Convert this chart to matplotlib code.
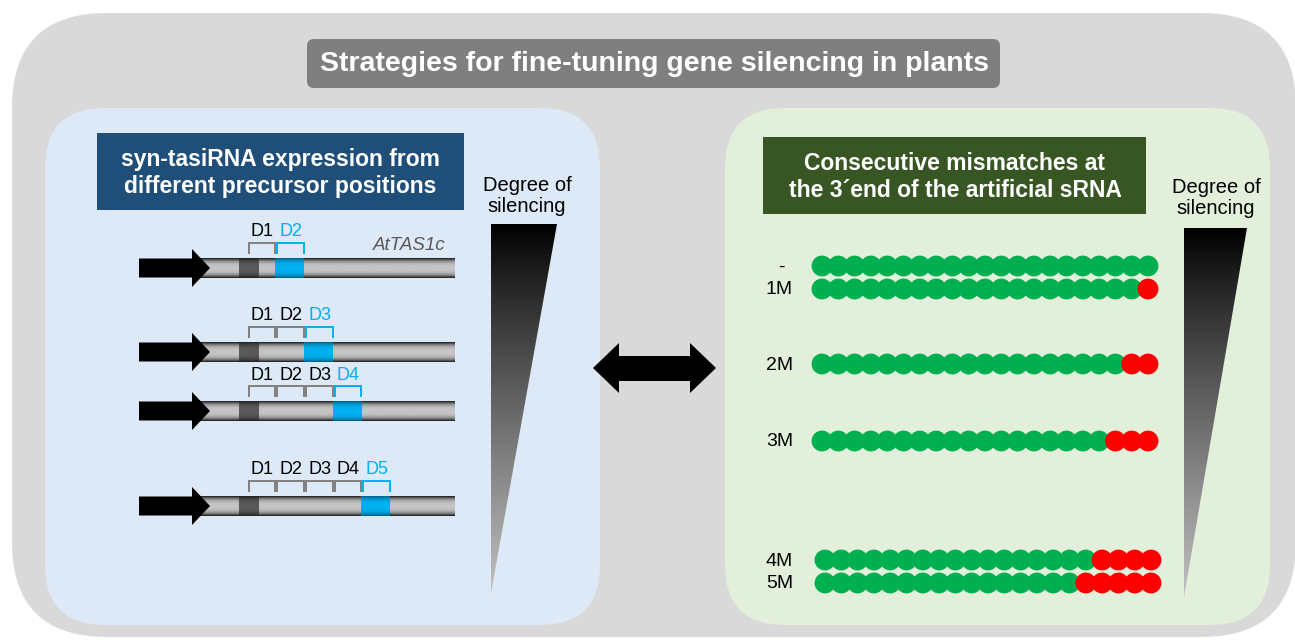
import numpy as np
import matplotlib
matplotlib.use("Agg")
import matplotlib.pyplot as plt
from matplotlib.patches import FancyBboxPatch, Polygon
from matplotlib.colors import LinearSegmentedColormap

plt.rcParams['font.family'] = ['Liberation Sans', 'DejaVu Sans']

# ---- content ----
title = "Strategies for fine-tuning gene silencing in plants"
left_header = "syn-tasiRNA expression from\ndifferent precursor positions"
right_header = "Consecutive mismatches at\nthe 3\u00b4end of the artificial sRNA"
scale_label = "Degree of\nsilencing"

# syn-tasiRNA constructs: position (D index) of the syn-tasiRNA in AtTAS1c
construct_pos = [2, 3, 4, 5]
construct_y = [268, 352, 411, 506]

# mismatch series
mm_labels = ["-", "1M", "2M", "3M", "4M", "5M"]
mm_counts = [0, 1, 2, 3, 4, 5]
n_nt = 21
mm_y = [266, 289, 364, 441, 560, 583]
mm_x0 = [822, 822, 822, 822, 825, 825]

GREEN = "#00b050"
RED = "#ff0000"
BLUE = "#00b0f0"

fig = plt.figure(figsize=(12.95, 6.42), dpi=100)
ax = fig.add_axes([0, 0, 1, 1])
ax.set_xlim(0, 1295)
ax.set_ylim(642, 0)
ax.axis("off")


def rbox(x0, y0, x1, y1, r, color, z=1):
    p = FancyBboxPatch((x0, y0), x1 - x0, y1 - y0,
                       boxstyle=f"round,pad=0,rounding_size={r}",
                       fc=color, ec="none", zorder=z)
    ax.add_patch(p)


def cylinder(x0, x1, y0, y1, edge, mid, z=3):
    t = np.linspace(-1, 1, 40)
    prof = np.abs(t) ** 3
    cmap = LinearSegmentedColormap.from_list("c", [mid, edge])
    ax.imshow(prof[:, None], cmap=cmap, vmin=0, vmax=1, aspect="auto",
              extent=(x0, x1, y1, y0), origin="upper", zorder=z,
              interpolation="bilinear")


def wedge(xl, xr, ytop, ybot):
    tri = Polygon([(xl, ytop), (xr, ytop), (xl, ybot)], closed=True,
                  fc="none", ec="none", zorder=3)
    ax.add_patch(tri)
    g = np.linspace(0, 1, 200) ** 0.9
    cmap = LinearSegmentedColormap.from_list("w", ["#000000", "#c0c0c0"])
    im = ax.imshow(g[:, None], cmap=cmap, aspect="auto",
                   extent=(xl, xr, ybot, ytop), origin="upper", zorder=3)
    im.set_clip_path(tri)


# backgrounds
rbox(12, 13, 1296, 637, 95, "#d9d9d9", 0)
rbox(45, 108, 600, 625, 60, "#dde9f6", 1)
rbox(725, 108, 1270, 625, 60, "#e2efda", 1)

# title
rbox(307, 39, 1000, 88, 7, "#7f7f7f", 2)
ax.text(655, 64, title, color="white", fontsize=20.5, fontweight="bold",
        ha="center", va="center", zorder=4)

# headers
ax.add_patch(plt.Rectangle((97, 133), 367, 77, fc="#1f4e79", ec="none", zorder=2))
ax.text(280, 173, left_header, color="white", fontsize=16.5, fontweight="bold",
        ha="center", va="center", linespacing=1.25, zorder=4)
ax.add_patch(plt.Rectangle((763, 137), 383, 77, fc="#375623", ec="none", zorder=2))
ax.text(955, 177, right_header, color="white", fontsize=16.5, fontweight="bold",
        ha="center", va="center", linespacing=1.25, zorder=4)

# degree of silencing wedges
ax.text(527, 196, scale_label, fontsize=14.5, ha="center", va="center",
        linespacing=1.1, zorder=4)
wedge(491, 557, 224, 593)
ax.text(1216, 198, scale_label, fontsize=14.5, ha="center", va="center",
        linespacing=1.1, zorder=4)
wedge(1184, 1247, 228, 597)

# double arrow between panels
ax.add_patch(Polygon([(593, 368), (619, 343), (619, 356), (690, 356),
                      (690, 343), (716, 368), (690, 393), (690, 381),
                      (619, 381), (619, 393)], closed=True, fc="black",
                     ec="none", zorder=3))

# gene constructs
seg_x0 = 248.5
seg_w = 28.7
for pos, yc in zip(construct_pos, construct_y):
    cylinder(200, 455, yc - 10, yc + 10, "#1a1a1a", "#c4c4c4")
    cylinder(239, 259, yc - 10, yc + 10, "#202020", "#5a5a5a", z=4)
    bx = seg_x0 + (pos - 1) * seg_w
    cylinder(bx - 2, bx + 27, yc - 10, yc + 10, "#00608a", BLUE, z=4)
    # promoter arrow
    ax.add_patch(Polygon([(139, yc - 9.5), (192, yc - 9.5), (192, yc - 19),
                          (210, yc), (192, yc + 19), (192, yc + 9.5),
                          (139, yc + 9.5)], closed=True, fc="black",
                         ec="none", zorder=5))
    # brackets and labels
    for d in range(1, pos + 1):
        x0 = seg_x0 + (d - 1) * seg_w
        x1 = x0 + seg_w - 2
        col = BLUE if d == pos else "#808080"
        tcol = BLUE if d == pos else "black"
        ax.plot([x0, x0, x1, x1], [yc - 15, yc - 25, yc - 25, yc - 15],
                color=col, lw=1.4, zorder=4, solid_joinstyle="miter")
        ax.text((x0 + x1) / 2 + 0.5, yc - 36, f"D{d}", color=tcol,
                fontsize=13, ha="center", va="center", zorder=4)
ax.text(446, 245, "AtTAS1c", color="#595959", fontsize=13.5, style="italic",
        ha="right", va="center", zorder=4)

# mismatch rows
dot_step = 16.3
for lab, nmm, yc, x0 in zip(mm_labels, mm_counts, mm_y, mm_x0):
    xs = x0 + dot_step * np.arange(n_nt)
    cols = [RED if i >= n_nt - nmm else GREEN for i in range(n_nt)]
    ax.scatter(xs, np.full(n_nt, yc), s=225, c=cols, linewidths=0, zorder=4)
    ax.text(793 if lab != "-" else 781, yc + 1, lab, fontsize=14,
            ha="right" if lab != "-" else "center", va="center", zorder=4)

fig.savefig("out.png", dpi=100)
